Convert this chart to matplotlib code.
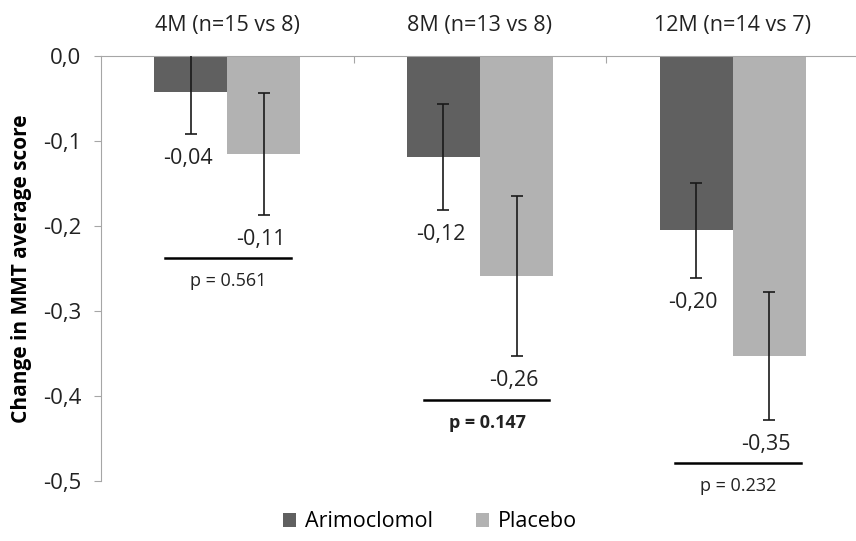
import numpy as np
import matplotlib.pyplot as plt

# data
groups = ["4M (n=15 vs 8)", "8M (n=13 vs 8)", "12M (n=14 vs 7)"]
arimo = [-0.042, -0.119, -0.205]
placebo = [-0.115, -0.259, -0.353]
arimo_err = [0.05, 0.062, 0.056]
placebo_err = [0.072, 0.094, 0.075]
arimo_labels = ["-0,04", "-0,12", "-0,20"]
placebo_labels = ["-0,11", "-0,26", "-0,35"]
p_values = ["p = 0.561", "p = 0.147", "p = 0.232"]
p_bold = [False, True, False]
yticks = [0.0, -0.1, -0.2, -0.3, -0.4, -0.5]
ytick_labels = ["0,0", "-0,1", "-0,2", "-0,3", "-0,4", "-0,5"]

plt.rcParams['font.family'] = ['Open Sans', 'DejaVu Sans']

dark = "#606060"
light = "#b2b2b2"
axcol = "#a6a6a6"
txt = "#222222"

fig = plt.figure(figsize=(8.56, 5.41), dpi=100)
ax = fig.add_axes([101 / 856, 1 - 481 / 541, 758 / 856, 425 / 541])

x = np.arange(len(groups))
w = 0.289
ax.bar(x - w / 2, arimo, w, color=dark, label="Arimoclomol", zorder=2)
ax.bar(x + w / 2, placebo, w, color=light, label="Placebo", zorder=2)
ax.errorbar(x - w / 2, arimo, yerr=arimo_err, fmt="none", ecolor="#1a1a1a",
            elinewidth=1.2, capsize=4, capthick=1.2, zorder=3)
ax.errorbar(x + w / 2, placebo, yerr=placebo_err, fmt="none", ecolor="#1a1a1a",
            elinewidth=1.2, capsize=4, capthick=1.2, zorder=3)

# value labels sit just under each error bar
for i in range(len(groups)):
    ax.text(x[i] - w / 2 - 0.012, arimo[i] - arimo_err[i] - 0.029, arimo_labels[i],
            ha="center", va="center", fontsize=15.5, color=txt)
    ax.text(x[i] + w / 2 - 0.012, placebo[i] - placebo_err[i] - 0.029, placebo_labels[i],
            ha="center", va="center", fontsize=15.5, color=txt)

# p-value bars (hand placed in the original)
p_line_y = [-0.238, -0.405, -0.479]
p_left = [-0.247, -0.222, -0.228]
for i in range(len(groups)):
    ax.plot([x[i] + p_left[i], x[i] + p_left[i] + 0.497], [p_line_y[i]] * 2,
            color="black", lw=1.8, clip_on=False, zorder=3)
    ax.text(x[i] + p_left[i] + 0.25, p_line_y[i] - 0.027, p_values[i], ha="center",
            va="center", fontsize=13, color=txt,
            fontweight="bold" if p_bold[i] else "normal")

ax.set_xlim(-0.5, 2.5)
ax.set_ylim(-0.5, 0.0)
ax.set_yticks(yticks)
ax.set_yticklabels(ytick_labels, fontsize=16, color=txt)
ax.tick_params(axis="y", length=5, color=axcol, pad=9)
ax.set_xticks([0.5, 1.5])
ax.set_xticklabels([])
ax.tick_params(axis="x", direction="in", length=5, color=axcol, top=True, bottom=False)

# category labels above the zero line
for i, g in enumerate(groups):
    ax.annotate(g, (x[i], 0.0), xytext=(0, 22), textcoords="offset points",
                ha="center", va="center", fontsize=15.5, color=txt, annotation_clip=False)

for s in ["right", "bottom"]:
    ax.spines[s].set_visible(False)
ax.spines["left"].set_color(axcol)
ax.spines["top"].set_color(axcol)

ax.set_ylabel("Change in MMT average score", fontsize=15, fontweight="bold", labelpad=8)

ax.legend(loc="center", bbox_to_anchor=(0.434, -0.096), ncol=2,
          frameon=False, fontsize=15.5, handlelength=0.6, handleheight=0.6,
          columnspacing=2.0, handletextpad=0.4)

fig.savefig("out.png", dpi=100)
